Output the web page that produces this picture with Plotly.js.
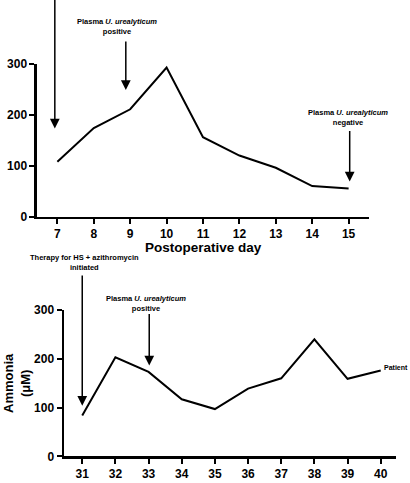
<!DOCTYPE html>
<html>
<head>
<meta charset="utf-8">
<script src="https://cdn.plot.ly/plotly-3.0.1.min.js"></script>
<style>html,body{margin:0;padding:0;background:#fff;}#chart{width:410px;height:483px;}</style>
</head>
<body>
<div id="chart"></div>
<script>
// ---- data ----
const topDays = [7, 8, 9, 10, 11, 12, 13, 14, 15];
const topAmmonia = [108, 174, 211, 293, 156, 120, 96, 60, 55];
const bottomDays = [31, 32, 33, 34, 35, 36, 37, 38, 39, 40];
const bottomAmmonia = [84, 203, 173, 117, 97, 139, 160, 240, 159, 176];
const yTicks = [0, 100, 200, 300];
const xTitle = "Postoperative day";
const yTitle = "Ammonia<br>(μM)";
const seriesName = "Patient";

const FONT = "Liberation Sans, Arial, sans-serif";

const traces = [
  {x: topDays, y: topAmmonia, xaxis: 'x', yaxis: 'y', mode: 'lines',
   line: {color: 'black', width: 2}, hoverinfo: 'skip'},
  {x: bottomDays, y: bottomAmmonia, xaxis: 'x2', yaxis: 'y2', mode: 'lines',
   name: seriesName, line: {color: 'black', width: 2}, hoverinfo: 'skip'}
];

function axisBase() {
  return {
    showline: true, linecolor: 'black', linewidth: 2.5,
    ticks: 'outside', ticklen: 5, tickwidth: 2, tickcolor: 'black',
    showgrid: false, zeroline: false, fixedrange: true,
    tickfont: {family: FONT, size: 12, color: 'black', weight: 'bold'}
  };
}

const xaxis = Object.assign(axisBase(), {domain: [0.0902, 0.900], range: [6.44, 15.56], anchor: 'y',
  tickmode: 'array', tickvals: topDays, ticktext: topDays.map(String)});
const yaxis = Object.assign(axisBase(), {domain: [0.5516, 0.8675], range: [0, 300], anchor: 'x',
  tickmode: 'array', tickvals: yTicks, ticktext: yTicks.map(String)});
const xaxis2 = Object.assign(axisBase(), {domain: [0.1561, 0.965], range: [30.45, 40.45], anchor: 'y2',
  tickmode: 'array', tickvals: bottomDays, ticktext: bottomDays.map(String)});
const yaxis2 = Object.assign(axisBase(), {domain: [0.0551, 0.3582], range: [0, 300], anchor: 'x2',
  tickmode: 'array', tickvals: yTicks, ticktext: yTicks.map(String)});

function arrow(xr, yr, x, yHead, yTail) {
  return {xref: xr, yref: yr, axref: xr, ayref: yr, x: x, y: yHead, ax: x, ay: yTail,
    text: '', showarrow: true, arrowhead: 2, arrowsize: 1.3, arrowwidth: 1.5, arrowcolor: 'black',
    standoff: 0, startstandoff: 0};
}
function label(xr, yPaper, x, text, xanchor) {
  return {xref: xr, yref: 'paper', x: x, y: yPaper, text: text, showarrow: false,
    xanchor: xanchor || 'center', yanchor: 'middle', align: 'center',
    font: {family: FONT, size: 7.5, color: 'black', weight: 'bold'}};
}

const annotations = [
  arrow('x', 'y', 6.93, 173, 470),
  arrow('x', 'y', 9.88, 307, 470),
  arrow('x', 'y', 8.88, 249, 347),
  arrow('x', 'y', 15.03, 69, 171),
  label('x', 1 - 26.9/483, 8.63, "Plasma <i>U. urealyticum</i><br>positive"),
  label('x', 1 - 117.5/483, 14.98, "Plasma <i>U. urealyticum</i><br>negative"),
  arrow('x2', 'y2', 31.0, 104, 374),
  arrow('x2', 'y2', 33.02, 186, 295),
  label('x2', 1 - 262/483, 31.07, "Therapy for HS + azithromycin<br>initiated"),
  label('x2', 1 - 303.5/483, 32.92, "Plasma <i>U. urealyticum</i><br>positive"),
  {xref: 'x2', yref: 'y2', x: 40.0, y: 182, xshift: 1, text: seriesName, showarrow: false,
   xanchor: 'left', yanchor: 'middle', font: {family: FONT, size: 7, color: 'black', weight: 'bold'}},
  {xref: 'paper', yref: 'paper', x: 203/410, y: 1 - 247/483, text: xTitle, showarrow: false,
   xanchor: 'center', yanchor: 'middle', font: {family: FONT, size: 13.5, color: 'black', weight: 'bold'}},
  {xref: 'paper', yref: 'paper', x: 17/410, y: 1 - 383/483, text: yTitle, showarrow: false, textangle: -90,
   xanchor: 'center', yanchor: 'middle', align: 'center', font: {family: FONT, size: 13, color: 'black', weight: 'bold'}}
];

const layout = {
  width: 410, height: 483,
  margin: {l: 0, r: 0, t: 0, b: 0},
  paper_bgcolor: 'white', plot_bgcolor: 'white',
  showlegend: false,
  xaxis: xaxis, yaxis: yaxis, xaxis2: xaxis2, yaxis2: yaxis2,
  annotations: annotations
};

Plotly.newPlot('chart', traces, layout, {staticPlot: true, displayModeBar: false});
</script>
</body>
</html>
